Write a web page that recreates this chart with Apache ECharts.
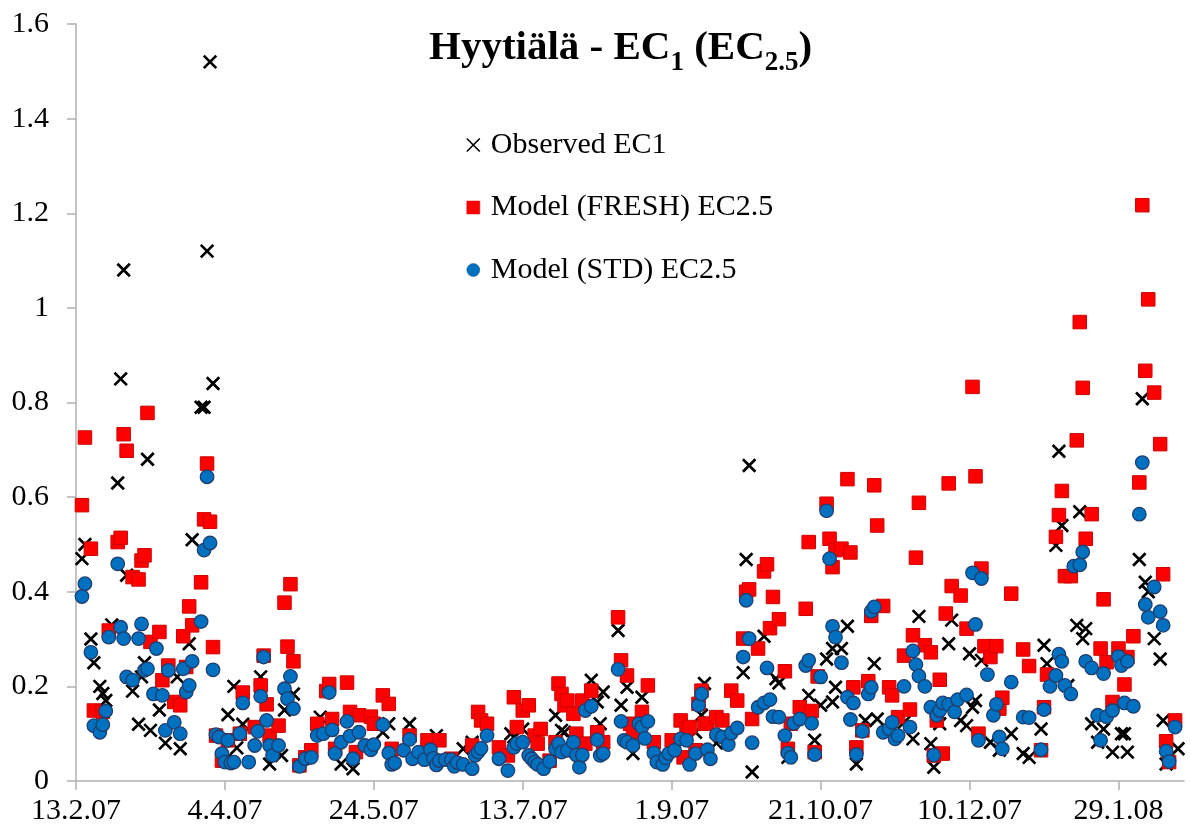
<!DOCTYPE html>
<html>
<head>
<meta charset="utf-8">
<script src="https://cdn.jsdelivr.net/npm/echarts@6/dist/echarts.min.js"></script>
<style>
html,body{margin:0;padding:0;background:#fff;}
#chart{width:1190px;height:836px;}
</style>
</head>
<body>
<div id="chart"></div>
<script>
// Days counted from 13.2.2007
const startDate = '13.2.07';
const tickDays = [0, 50, 100, 150, 200, 250, 300, 350];
const tickLabels = ['13.2.07', '4.4.07', '24.5.07', '13.7.07', '1.9.07', '21.10.07', '10.12.07', '29.1.08'];
const seriesNames = ['Observed EC1', 'Model (FRESH) EC2.5', 'Model (STD) EC2.5'];

const observed = [
[2,0.47],[3,0.50],[5,0.30],[6,0.25],[8,0.20],[9,0.185],[10,0.17],[12,0.33],[14,0.63],[15,0.85],[16,1.08],[17,0.435],[19,0.19],[21,0.12],[22,0.22],[23,0.25],[24,0.68],[25,0.107],[28,0.15],[30,0.08],[34,0.22],[35,0.068],[38,0.29],[39,0.51],[42,0.79],[43,0.79],[44,1.12],[45,1.52],[46,0.84],[50,0.043],[51,0.14],[53,0.20],[54,0.07],[56,0.12],[62,0.22],[65,0.036],[69,0.054],[70,0.15],[73,0.184],[82,0.135],[89,0.036],[93,0.026],[103,0.103],[105,0.121],[112,0.121],[121,0.096],[130,0.068],[133,0.082],[146,0.10],[147,0.093],[150,0.11],[161,0.139],[163,0.107],[164,0.103],[173,0.213],[175,0.167],[176,0.121],[177,0.188],[182,0.318],[183,0.16],[185,0.198],[187,0.058],[190,0.177],[208,0.103],[210,0.139],[211,0.206],[215,0.08],[224,0.229],[225,0.468],[226,0.667],[227,0.019],[231,0.306],[235,0.216],[236,0.207],[239,0.05],[246,0.181],[248,0.086],[250,0.16],[252,0.258],[254,0.167],[255,0.198],[254,0.28],[257,0.28],[259,0.327],[262,0.036],[265,0.128],[268,0.248],[269,0.131],[278,0.124],[281,0.089],[283,0.348],[287,0.079],[288,0.029],[290,0.121],[293,0.29],[294,0.34],[297,0.128],[299,0.117],[300,0.269],[301,0.156],[302,0.17],[304,0.255],[307,0.082],[310,0.065],[314,0.10],[318,0.058],[320,0.05],[324,0.11],[325,0.287],[326,0.248],[329,0.498],[330,0.697],[331,0.54],[333,0.202],[336,0.329],[337,0.569],[338,0.301],[339,0.322],[341,0.121],[343,0.082],[345,0.11],[348,0.061],[351,0.10],[352,0.10],[353,0.061],[357,0.468],[358,0.808],[359,0.42],[360,0.40],[362,0.301],[364,0.258],[365,0.128],[366,0.036],[370,0.068]
];

const modelFresh = [
[2,0.583],[3,0.726],[5,0.491],[6,0.149],[9,0.146],[11,0.318],[14,0.505],[15,0.514],[16,0.733],[17,0.698],[19,0.431],[21,0.426],[22,0.466],[23,0.477],[24,0.778],[25,0.294],[28,0.315],[29,0.213],[31,0.244],[33,0.167],[35,0.16],[36,0.306],[37,0.241],[38,0.369],[39,0.329],[42,0.42],[43,0.553],[44,0.671],[45,0.548],[46,0.283],[47,0.096],[49,0.043],[51,0.086],[55,0.10],[56,0.187],[60,0.114],[62,0.202],[63,0.265],[64,0.162],[65,0.096],[68,0.117],[70,0.377],[71,0.284],[72,0.416],[73,0.253],[75,0.033],[77,0.05],[79,0.065],[81,0.121],[84,0.19],[85,0.205],[86,0.131],[87,0.068],[91,0.208],[92,0.146],[94,0.061],[95,0.139],[99,0.136],[100,0.121],[103,0.181],[105,0.163],[106,0.068],[112,0.096],[118,0.086],[122,0.086],[126,0.047],[133,0.075],[135,0.146],[136,0.128],[138,0.121],[142,0.071],[145,0.054],[147,0.177],[148,0.114],[150,0.149],[152,0.16],[154,0.096],[155,0.079],[156,0.11],[159,0.043],[161,0.082],[162,0.206],[163,0.184],[164,0.16],[165,0.17],[167,0.142],[168,0.10],[170,0.17],[171,0.079],[173,0.191],[175,0.103],[177,0.082],[182,0.346],[183,0.255],[185,0.223],[186,0.121],[187,0.103],[190,0.146],[192,0.202],[194,0.082],[200,0.086],[203,0.128],[204,0.05],[205,0.11],[206,0.114],[208,0.065],[209,0.163],[210,0.191],[211,0.121],[212,0.121],[215,0.135],[217,0.128],[220,0.191],[222,0.17],[224,0.301],[225,0.40],[226,0.405],[227,0.131],[229,0.28],[231,0.443],[232,0.458],[233,0.323],[234,0.389],[236,0.342],[238,0.232],[239,0.068],[240,0.121],[243,0.156],[245,0.364],[246,0.505],[247,0.148],[248,0.061],[249,0.221],[252,0.586],[253,0.512],[254,0.452],[255,0.488],[257,0.491],[259,0.638],[260,0.483],[261,0.198],[262,0.071],[264,0.107],[266,0.211],[267,0.349],[268,0.625],[269,0.54],[271,0.37],[273,0.198],[274,0.181],[276,0.135],[278,0.265],[280,0.151],[281,0.308],[282,0.472],[283,0.588],[285,0.287],[287,0.272],[288,0.054],[289,0.128],[290,0.214],[291,0.058],[292,0.354],[293,0.629],[294,0.412],[297,0.392],[299,0.322],[301,0.833],[302,0.644],[303,0.10],[304,0.449],[305,0.285],[307,0.262],[309,0.285],[310,0.153],[311,0.176],[314,0.396],[318,0.278],[320,0.243],[324,0.065],[325,0.156],[326,0.225],[329,0.516],[330,0.562],[331,0.613],[332,0.433],[334,0.433],[336,0.72],[337,0.97],[338,0.831],[339,0.512],[341,0.564],[344,0.28],[345,0.384],[346,0.251],[348,0.167],[350,0.28],[352,0.204],[353,0.262],[355,0.306],[357,0.631],[358,1.217],[359,0.867],[360,1.018],[362,0.821],[364,0.712],[365,0.437],[366,0.084],[367,0.04],[369,0.128]
];

const modelStd = [
[2,0.39],[3,0.417],[5,0.272],[6,0.117],[8,0.103],[9,0.119],[10,0.148],[11,0.304],[14,0.459],[15,0.325],[16,0.301],[17,0.22],[19,0.213],[21,0.301],[22,0.332],[23,0.234],[24,0.237],[26,0.184],[27,0.28],[29,0.181],[30,0.107],[31,0.234],[33,0.124],[35,0.10],[36,0.237],[37,0.188],[38,0.202],[39,0.253],[42,0.337],[43,0.488],[44,0.643],[45,0.503],[46,0.235],[47,0.098],[48,0.093],[49,0.058],[50,0.04],[51,0.086],[52,0.038],[53,0.04],[55,0.10],[56,0.165],[58,0.04],[60,0.075],[61,0.105],[62,0.179],[63,0.262],[64,0.128],[65,0.075],[66,0.054],[68,0.075],[70,0.195],[71,0.174],[72,0.221],[73,0.153],[75,0.031],[77,0.047],[79,0.05],[81,0.096],[83,0.10],[85,0.187],[86,0.108],[87,0.058],[89,0.082],[91,0.126],[92,0.095],[93,0.047],[95,0.103],[97,0.075],[99,0.066],[100,0.077],[103,0.119],[105,0.059],[106,0.035],[107,0.038],[110,0.065],[112,0.088],[113,0.047],[115,0.061],[117,0.045],[119,0.066],[120,0.048],[121,0.034],[122,0.043],[124,0.045],[126,0.045],[127,0.031],[128,0.039],[130,0.035],[133,0.026],[134,0.054],[135,0.061],[136,0.069],[138,0.096],[142,0.047],[145,0.022],[147,0.071],[148,0.079],[150,0.082],[152,0.054],[153,0.047],[154,0.04],[155,0.035],[157,0.026],[159,0.041],[161,0.068],[162,0.079],[163,0.061],[165,0.065],[167,0.082],[168,0.055],[169,0.029],[170,0.055],[171,0.149],[173,0.158],[175,0.087],[176,0.054],[177,0.058],[182,0.236],[183,0.126],[184,0.086],[185,0.082],[187,0.075],[189,0.121],[190,0.114],[191,0.09],[192,0.126],[194,0.059],[195,0.04],[197,0.035],[198,0.049],[199,0.058],[201,0.065],[203,0.089],[205,0.086],[206,0.035],[208,0.058],[209,0.16],[210,0.184],[212,0.066],[213,0.047],[215,0.098],[217,0.093],[219,0.077],[220,0.101],[222,0.112],[224,0.262],[225,0.382],[226,0.301],[227,0.081],[229,0.156],[231,0.165],[232,0.239],[233,0.172],[234,0.136],[236,0.135],[238,0.096],[239,0.059],[240,0.05],[241,0.122],[243,0.131],[245,0.244],[246,0.255],[247,0.122],[248,0.056],[250,0.22],[252,0.571],[253,0.47],[254,0.327],[255,0.304],[257,0.25],[259,0.177],[260,0.13],[261,0.165],[262,0.056],[264,0.105],[266,0.184],[267,0.198],[267,0.359],[268,0.368],[271,0.103],[273,0.11],[274,0.124],[275,0.089],[276,0.096],[278,0.20],[280,0.114],[281,0.275],[282,0.246],[283,0.222],[285,0.20],[287,0.156],[288,0.055],[289,0.139],[290,0.149],[291,0.165],[293,0.162],[295,0.146],[296,0.172],[299,0.182],[301,0.44],[302,0.331],[303,0.086],[304,0.428],[306,0.225],[308,0.139],[309,0.162],[310,0.093],[311,0.068],[314,0.209],[318,0.135],[320,0.134],[324,0.066],[325,0.151],[327,0.20],[329,0.223],[330,0.268],[331,0.253],[332,0.202],[334,0.184],[335,0.454],[337,0.457],[338,0.484],[339,0.253],[341,0.239],[343,0.139],[344,0.086],[345,0.227],[346,0.136],[348,0.149],[350,0.263],[351,0.244],[352,0.165],[353,0.253],[355,0.158],[357,0.564],[358,0.673],[359,0.373],[360,0.346],[362,0.41],[364,0.358],[365,0.329],[366,0.063],[367,0.041],[369,0.114]
];

const SERIF = '"Liberation Serif", "Times New Roman", serif';
const crossPath = 'path://M0,0L10,10M0,10L10,0';
const axisGray = '#b0b0b0';

const chart = echarts.init(document.getElementById('chart'), null, {renderer: 'canvas'});
chart.setOption({
  backgroundColor: '#ffffff',
  animation: false,
  title: {
    left: 424,
    top: 23,
    text: '{m|Hyytiälä - EC}{s|1}{m| (EC}{s|2.5}{m|)}',
    textStyle: {
      rich: {
        m: {fontFamily: SERIF, fontSize: 41, fontWeight: 'bold', color: '#000', lineHeight: 41, verticalAlign: 'top'},
        s: {fontFamily: SERIF, fontSize: 27, fontWeight: 'bold', color: '#000', lineHeight: 27, verticalAlign: 'top', padding: [22, 0, 0, 0]}
      }
    }
  },
  legend: {
    orient: 'vertical',
    left: 461,
    top: 125,
    itemGap: 32.5,
    itemWidth: 13,
    itemHeight: 13,
    textStyle: {fontFamily: SERIF, fontSize: 30, color: '#000', lineHeight: 30, padding: [0, 0, 0, 6]},
    data: [
      {name: seriesNames[0], icon: crossPath, itemStyle: {color: 'transparent', borderColor: '#000', borderWidth: 1.6}},
      {name: seriesNames[1], icon: 'rect', itemStyle: {color: '#ff0000', borderColor: '#e00000', borderWidth: 0.5}},
      {name: seriesNames[2], icon: 'circle', itemStyle: {color: '#0070c0', borderColor: '#1f4e79', borderWidth: 0.5}}
    ]
  },
  grid: {left: 76, right: 6, top: 24, bottom: 55},
  xAxis: {
    type: 'value',
    min: 0,
    max: 372,
    axisLine: {show: true, lineStyle: {color: axisGray, width: 1.5}},
    axisTick: {show: true, length: 9, customValues: tickDays, lineStyle: {color: axisGray, width: 1.5}},
    splitLine: {show: false},
    axisLabel: {
      customValues: tickDays,
      margin: 15,
      fontFamily: SERIF, fontSize: 30, color: '#000',
      formatter: function (v) { const i = tickDays.indexOf(v); return i >= 0 ? tickLabels[i] : ''; }
    }
  },
  yAxis: {
    type: 'value',
    min: 0,
    max: 1.6,
    interval: 0.2,
    axisLine: {show: true, lineStyle: {color: axisGray, width: 1.5}},
    axisTick: {show: true, length: 9, lineStyle: {color: axisGray, width: 1.5}},
    splitLine: {show: false},
    axisLabel: {margin: 27, fontFamily: SERIF, fontSize: 30, color: '#000'}
  },
  series: [
    {
      name: seriesNames[0], type: 'scatter', data: observed,
      symbol: crossPath, symbolSize: 12.5,
      itemStyle: {color: 'transparent', borderColor: '#000', borderWidth: 2.7, opacity: 1},
      emphasis: {disabled: true}, z: 2
    },
    {
      name: seriesNames[1], type: 'scatter', data: modelFresh,
      symbol: 'rect', symbolSize: 13.5,
      itemStyle: {color: '#ff0000', borderColor: '#d00000', borderWidth: 1, opacity: 1},
      emphasis: {disabled: true}, z: 3
    },
    {
      name: seriesNames[2], type: 'scatter', data: modelStd,
      symbol: 'circle', symbolSize: 13.5,
      itemStyle: {color: '#0070c0', borderColor: '#1f3f6e', borderWidth: 1.3, opacity: 1},
      emphasis: {disabled: true}, z: 4
    }
  ]
});
</script>
</body>
</html>
